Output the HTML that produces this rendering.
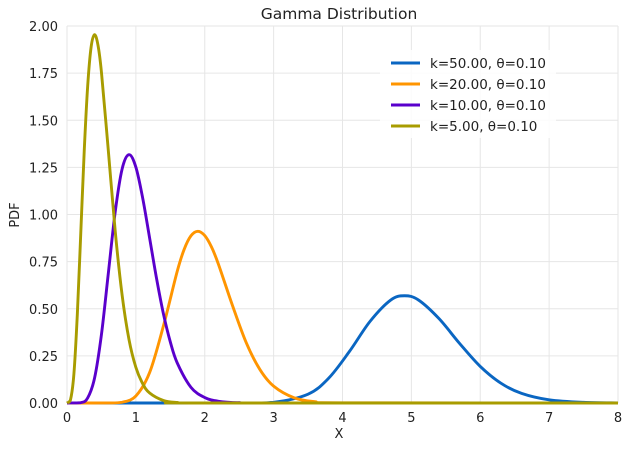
<!DOCTYPE html>
<html><head><meta charset="utf-8"><style>
body{margin:0;background:#fff;}
svg text{font-family:"DejaVu Sans","Liberation Sans",sans-serif;fill:#222;}
</style></head><body>
<svg id="chart" width="629" height="448" xmlns="http://www.w3.org/2000/svg">
<text x="339" y="19" font-size="15.5" text-anchor="middle">Gamma Distribution</text>
<g id="grid"></g><g id="ticks"></g><g id="lines"></g>
<text x="339" y="438" font-size="13" text-anchor="middle">X</text>
<text x="19" y="215" font-size="13" text-anchor="middle" transform="rotate(-90 19 215)">PDF</text>
<g id="legend"></g>
</svg>
<script>
const xTicks=[0,1,2,3,4,5,6,7,8];
const yTicks=[0,0.25,0.5,0.75,1,1.25,1.5,1.75,2];
const seriesLabels=["k=50.00, θ=0.10","k=20.00, θ=0.10","k=10.00, θ=0.10","k=5.00, θ=0.10"];
const seriesColors=["#0a66c2","#ff9500","#5a00cc","#a89c00"];
const x50=[0,2.5,3.0,3.5,3.8,4.1,4.4,4.7,4.9,5.1,5.4,5.7,6.0,6.3,6.6,7.0,7.5,8.0];
const y50=[0,0.00007,0.0037,0.047,0.132,0.273,0.433,0.546,0.569,0.547,0.448,0.316,0.194,0.105,0.051,0.0168,0.0033,0.0005];
const x20=[0,0.6,0.8,1.0,1.2,1.4,1.6,1.7,1.8,1.9,2.0,2.1,2.2,2.4,2.6,2.8,3.0,3.3,3.6,4.0,8.0];
const y20=[0,0.0001,0.004,0.0373,0.162,0.409,0.698,0.814,0.887,0.911,0.888,0.826,0.735,0.520,0.322,0.178,0.0894,0.0272,0.0071,0.001,0];
const x10=[0,0.2,0.3,0.4,0.5,0.6,0.7,0.8,0.9,1.0,1.1,1.2,1.3,1.4,1.5,1.6,1.8,2.0,2.2,2.5,3.0,8.0];
const y10=[0,0.0019,0.027,0.132,0.363,0.688,1.014,1.241,1.3175,1.251,1.085,0.874,0.661,0.473,0.324,0.213,0.083,0.029,0.0093,0.0015,0,0];
const x5=[0,0.05,0.1,0.15,0.2,0.25,0.3,0.35,0.4,0.45,0.5,0.6,0.7,0.8,0.9,1.0,1.1,1.2,1.4,1.6,2.0,8.0];
const y5=[0,0.0158,0.153,0.471,0.902,1.336,1.680,1.888,1.954,1.898,1.755,1.339,0.912,0.573,0.337,0.189,0.102,0.053,0.0133,0.003,0,0];
const X0=67,X1=618,Y0=403,Y1=26;
const sx=v=>X0+(v-0)/(8-0)*(X1-X0);
const sy=v=>Y0-(v-0)/(2-0)*(Y0-Y1);
const NS="http://www.w3.org/2000/svg";
function mk(tag,attrs,parent,text){const e=document.createElementNS(NS,tag);for(const k in attrs)e.setAttribute(k,attrs[k]);if(text!==undefined)e.textContent=text;parent.appendChild(e);return e;}
const grid=document.getElementById('grid'),ticks=document.getElementById('ticks'),lines=document.getElementById('lines'),legend=document.getElementById('legend');
xTicks.forEach(t=>{
  const l=mk('line',{x1:sx(t),x2:sx(t),y1:Y1,y2:Y0,stroke:'#e6e6e6','stroke-width':1},grid);
  
  
  const tx=mk('text',{x:sx(t),y:Y0+19,'font-size':13,'text-anchor':'middle'},ticks,String(t));
  
  
});
yTicks.forEach(t=>{
  const l=mk('line',{x1:X0,x2:X1,y1:sy(t),y2:sy(t),stroke:'#e6e6e6','stroke-width':1},grid);
  
  
  const tx=mk('text',{x:X0-9,y:sy(t)+5,'font-size':13,'text-anchor':'end'},ticks,t.toFixed(2));
  
  
});
function pathFrom(xs,ys){
  const p=xs.map((x,i)=>[sx(x),sy(ys[i])]);
  let d='M'+p[0][0]+','+p[0][1];
  for(let i=0;i<p.length-1;i++){
    const p0=p[Math.max(0,i-1)],p1=p[i],p2=p[i+1],p3=p[Math.min(p.length-1,i+2)];
    let c1y=p1[1]+(p2[1]-p0[1])/6,c2y=p2[1]-(p3[1]-p1[1])/6;
    c1y=Math.min(c1y,Y0);c2y=Math.min(c2y,Y0);
    d+=' C'+(p1[0]+(p2[0]-p0[0])/6)+','+c1y+' '+(p2[0]-(p3[0]-p1[0])/6)+','+c2y+' '+p2[0]+','+p2[1];
  }
  return d;
}
const allX=[x50,x20,x10,x5],allY=[y50,y20,y10,y5],names=['series-k50','series-k20','series-k10','series-k5'];
allX.forEach((xs,i)=>{
  const pth=mk('path',{d:pathFrom(xs,allY[i]),fill:'none',stroke:seriesColors[i],'stroke-width':2.9,'stroke-linejoin':'round'},lines);
  
  
});
mk('rect',{x:380,y:50,width:176,height:88,fill:'#fff',opacity:0.85},legend);
seriesLabels.forEach((lab,i)=>{
  const y=63+i*21;
  const ln=mk('line',{x1:391,x2:420,y1:y,y2:y,stroke:seriesColors[i],'stroke-width':3},legend);
  
  
  const tx=mk('text',{x:430,y:y+5,'font-size':13.5},legend,lab);
  
  
});
</script>
</body></html>
